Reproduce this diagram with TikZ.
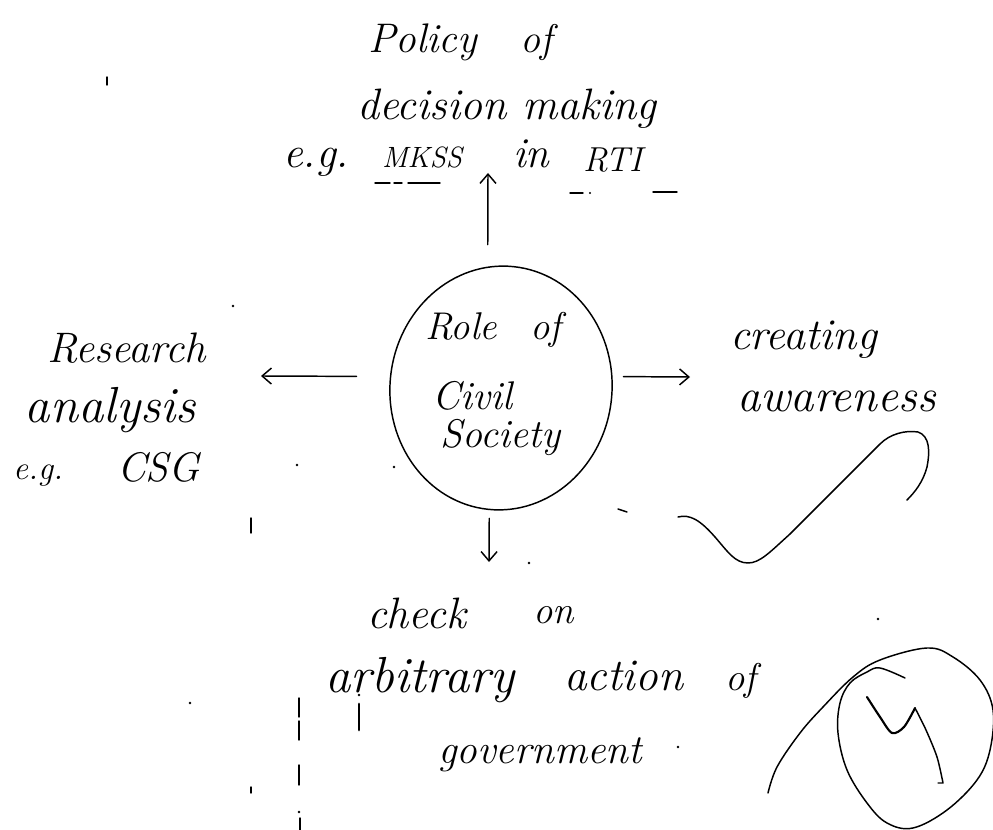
\documentclass[tikz,border=0pt]{standalone}
\usetikzlibrary{arrows.meta,shapes.geometric,calc}
\newcommand\hwf[1]{\fontsize{#1}{#1}\selectfont\itshape}
\begin{document}
\begin{tikzpicture}[x=0.75pt,y=-0.75pt,line width=1.1pt,line cap=round,line join=round,
  txt/.style={anchor=base west,inner sep=0pt,outer sep=0pt},
  arr/.style={-{Straight Barb[length=7pt,width=12pt]}},
  pen/.style={line width=1.1pt}]
\useasboundingbox (0,0) rectangle (993,830);
% central circle
\node[ellipse,draw,pen,minimum width=166.5pt,minimum height=183pt,inner sep=0pt,outer sep=0pt,rotate=-6] (rc) at (501,388) {};
\node[txt,font=\hwf{29}] (role) at (425,340) {Role\hspace{25pt}of};
\node[txt,font=\hwf{30}] (civil) at (432,410) {Civil};
\node[txt,font=\hwf{30}] (soc) at (440,448) {Society};
% top
\node[txt,font=\hwf{31}] (pol) at (368,53) {Policy};
\node[txt,font=\hwf{30}] (pof) at (520,53) {of};
\node[txt,font=\hwf{33}] (dec) at (357,120) {decision making};
\node[txt,font=\hwf{33}] (eg1) at (283,168) {e.g.};
\node[txt,font=\hwf{22}] (mkss) at (382,168) {MKSS};
\node[txt,font=\hwf{32}] (in) at (513,168) {in};
\node[txt,font=\hwf{26}] (rti) at (583,172) {RTI};
\draw[pen] (375,183) -- (390,183) (394,183) -- (402,183) (408,183) -- (440,183);
\draw[pen] (570,193) -- (583,193) (653,192) -- (677,192);
\fill (590,193) circle (1.2);
% left
\node[txt,font=\hwf{32}] (res1) at (47,363) {Research};
\node[txt,font=\hwf{38}] (res2) at (25,423) {analysis};
\node[txt,font=\hwf{25}] (res3) at (13,480) {e.g.};
\node[txt,font=\hwf{31}] (csg) at (117,482) {CSG};
% right
\node[txt,font=\hwf{33}] (cr1) at (730,350) {creating};
\node[txt,font=\hwf{35}] (cr2) at (737,412) {awareness};
% bottom
\node[txt,font=\hwf{33}] (ck) at (367,628) {check};
\node[txt,font=\hwf{29}] (on) at (533,623) {on};
\node[txt,font=\hwf{38}] (arb) at (325,692) {arbitrary};
\node[txt,font=\hwf{34}] (act) at (564,690) {action};
\node[txt,font=\hwf{29}] (bof) at (725,690) {of};
\node[txt,font=\hwf{31}] (gov) at (438,763) {government};
% arrow tips
\coordinate (ua) at (488,173);
\coordinate (la) at (261,376);
\coordinate (ra) at (690,377);
\coordinate (da) at (489,562);
\draw[pen,arr] ($(rc.north)+(-26,-22)$) -- (ua);
\draw[pen,arr] ($(rc.west)+(-34,0)$) -- (la);
\draw[pen,arr] ($(rc.east)+(12,-23)$) -- (ra);
\draw[pen,arr] ($(rc.south)+(1,9)$) -- (da);
% tick mark
\draw[pen] (678,517) .. controls (690,514) and (700,520) .. (715,537)
  .. controls (728,552) and (735,563) .. (748,563)
  .. controls (760,563) and (770,552) .. (790,534)
  -- (880,444) .. controls (890,434) and (905,430) .. (918,432)
  .. controls (930,436) and (930,452) .. (927,467)
  .. controls (923,482) and (915,492) .. (907,500);
\draw[pen] (618,509) -- (627,512);
% circled mark
\draw[pen] plot[smooth,tension=0.6] coordinates {(768,793) (777,767) (800,733) (823,707) (853,677) (880,660) (927,648) (953,657) (980,680) (993,710) (990,750) (977,780) (947,810) (913,828) (887,823) (867,803) (847,770) (838,733) (840,703) (850,683) (867,672) (880,668) (905,678)};
\draw[line width=1.6pt] plot[smooth,tension=0.5] coordinates {(867,697) (880,717) (892,733) (904,727) (915,708)};
\draw[pen] plot[smooth,tension=0.5] coordinates {(915,708) (926,730) (937,757) (943,783)} -- (938,783);
% stray marks
\draw[pen] (107,77) -- (107,85);
\draw[pen] (251,518) -- (251,533);
\draw[pen] (251,787) -- (251,793);
\draw[pen] (299,698) -- (299,717) (299,721) -- (299,740) (299,765) -- (299,785) (300,818) -- (300,830);
\draw[line width=2.2pt] (359,704) -- (359,730);
\foreach \p in {(233,306),(297,465),(394,467),(529,563),(878,619),(678,747),(190,703),(359,695),(299,812)}
  \fill \p circle (1.3);
\end{tikzpicture}
\end{document}
